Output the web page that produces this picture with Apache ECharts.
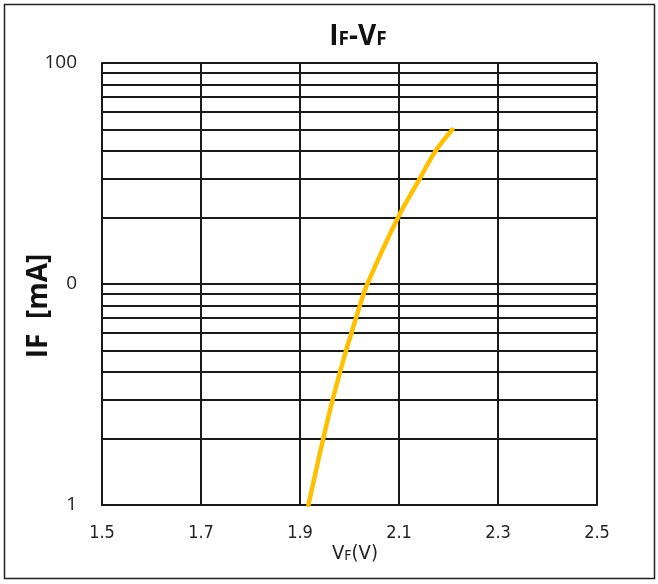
<!DOCTYPE html>
<html><head><meta charset="utf-8">
<script src="https://cdn.jsdelivr.net/npm/echarts@6/dist/echarts.min.js"></script>
<style>html,body{margin:0;padding:0;background:#fff}#c{width:658px;height:584px}</style>
</head><body><div id="c"></div>
<script>
var vfValues = [1.917, 1.947, 1.966, 1.981, 1.993, 2.004, 2.021, 2.036, 2.098, 2.142, 2.174, 2.208];
var ifValues = [1, 2, 3, 4, 5, 6, 8, 10, 20, 30, 40, 50];
var xTickLabels = ['1.5', '1.7', '1.9', '2.1', '2.3', '2.5'];
var yTickValues = [1, 10, 100];
var yTickLabels = ['1', '0', '100'];
var minorGridValues = [2, 3, 4, 5, 6, 7, 8, 9, 20, 30, 40, 50, 60, 70, 80, 90];

var chart = echarts.init(document.getElementById('c'));
var gridColor = '#1a1a1a';
var narrow = 'Liberation Sans Narrow, DejaVu Sans Condensed, Liberation Sans';
chart.setOption({
  animation: false,
  backgroundColor: '#fff',
  graphic: [
    {type: 'rect', shape: {x: 4.5, y: 4.5, width: 650, height: 574}, style: {fill: 'none', stroke: '#222', lineWidth: 1.5}, silent: true, z: -1},
    {type: 'text', x: 358, y: 37, style: {
      text: '{a|I}{b|F}{a|-V}{b|F}', textAlign: 'center', textVerticalAlign: 'middle',
      rich: {a: {fontSize: 28, fontWeight: 'bold', fontFamily: 'Open Sans, DejaVu Sans', fill: '#111'},
             b: {fontSize: 19, fontWeight: 'bold', fontFamily: 'Open Sans, DejaVu Sans', fill: '#111', padding: [6, 0, 0, 0]}}
    }},
    {type: 'text', x: 355, y: 554, style: {
      text: '{a|V}{b|F}{a|(V)}', textAlign: 'center', textVerticalAlign: 'middle',
      rich: {a: {fontSize: 20, fontFamily: narrow, fill: '#222'},
             b: {fontSize: 14, fontFamily: narrow, fill: '#222', padding: [5, 0, 0, 0]}}
    }},
    {type: 'text', x: 39, y: 306, rotation: Math.PI / 2, style: {
      text: 'IF  [mA]', textAlign: 'center', textVerticalAlign: 'middle',
      font: 'bold 28px "Open Sans", "DejaVu Sans"', fill: '#111'
    }}
  ],
  grid: {left: 102, top: 63, right: 61, bottom: 79, containLabel: false},
  xAxis: {
    type: 'value', min: 1.5, max: 2.5, interval: 0.2,
    axisLine: {show: true, lineStyle: {color: gridColor, width: 2}},
    axisTick: {show: false},
    splitLine: {show: true, lineStyle: {color: gridColor, width: 2}},
    axisLabel: {
      margin: 19, color: '#222', fontSize: 18, fontFamily: narrow,
      formatter: function (v) { var i = Math.round((v - 1.5) / 0.2); return xTickLabels[i] !== undefined ? xTickLabels[i] : ''; }
    }
  },
  yAxis: {
    type: 'log', logBase: 10, min: 1, max: 100,
    axisLine: {show: true, lineStyle: {color: gridColor, width: 2}},
    axisTick: {show: false},
    splitLine: {show: true, lineStyle: {color: gridColor, width: 2}},
    axisLabel: {
      margin: 25, color: '#222', fontSize: 19, fontFamily: 'Open Sans, Liberation Sans',
      formatter: function (v) { var i = yTickValues.indexOf(Math.round(v)); return i >= 0 ? yTickLabels[i] : ''; }
    }
  },
  series: [{
    type: 'line', smooth: 0.4, symbol: 'none',
    data: vfValues.map(function (v, i) { return [v, ifValues[i]]; }),
    lineStyle: {color: '#FFC000', width: 4.5, cap: 'round'},
    z: 5,
    markLine: {
      silent: true, symbol: ['none', 'none'], label: {show: false},
      lineStyle: {type: 'solid', color: gridColor, width: 2},
      data: minorGridValues.map(function (v) { return {yAxis: v}; }),
      z: 1
    }
  }]
});
</script></body></html>
